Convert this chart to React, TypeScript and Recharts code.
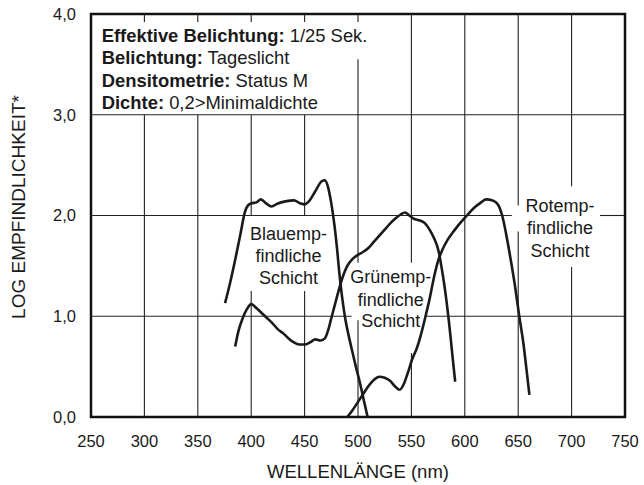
import React from 'react';
import { LineChart, Line, XAxis, YAxis, ReferenceLine, ReferenceArea } from 'recharts';

// Spectral sensitivity curves, one array per emulsion layer
const BLAU_NM = [375.5, 380, 385, 390, 394, 397, 400, 405, 409, 414, 419, 425, 432, 440, 446, 450, 454, 460, 466, 469, 472, 475, 478, 480.5, 482.5, 485, 488, 491, 494, 498, 502, 506, 509];
const BLAU_LOG = [1.13, 1.32, 1.56, 1.82, 2.03, 2.1, 2.12, 2.13, 2.16, 2.12, 2.09, 2.12, 2.14, 2.15, 2.12, 2.11, 2.14, 2.24, 2.34, 2.35, 2.28, 2.12, 1.9, 1.66, 1.43, 1.2, 0.98, 0.82, 0.68, 0.5, 0.33, 0.14, 0.0];

const GRUEN_NM = [385, 388, 392, 396, 400, 405, 410, 415, 420, 425, 430, 435, 440, 445, 450, 455, 460, 465, 469, 472, 475, 478, 482, 486, 490, 495, 500, 505, 510, 515, 520, 525, 530, 535, 540, 544, 548, 552, 558, 563, 567, 571, 574, 576, 578, 580, 583, 585, 587, 589, 591];
const GRUEN_LOG = [0.7, 0.85, 0.98, 1.07, 1.12, 1.08, 1.03, 0.98, 0.93, 0.87, 0.83, 0.78, 0.74, 0.72, 0.72, 0.74, 0.77, 0.76, 0.78, 0.86, 0.98, 1.1, 1.26, 1.4, 1.5, 1.57, 1.61, 1.64, 1.68, 1.74, 1.8, 1.86, 1.92, 1.97, 2.01, 2.03, 2.0, 1.97, 1.95, 1.92, 1.86, 1.78, 1.7, 1.62, 1.5, 1.37, 1.14, 0.96, 0.76, 0.55, 0.35];

const ROT_NM = [490, 495, 500, 505, 510, 515, 520, 525, 530, 535, 539, 543, 547, 551, 555, 559, 563, 567, 571, 575, 579, 584, 590, 596, 602, 608, 614, 620, 626, 631, 635, 639, 643, 647, 651, 655, 658, 660.5];
const ROT_LOG = [0.0, 0.07, 0.15, 0.23, 0.31, 0.37, 0.4, 0.39, 0.36, 0.3, 0.27, 0.33, 0.45, 0.58, 0.68, 0.82, 0.99, 1.17, 1.38, 1.55, 1.66, 1.76, 1.85, 1.93, 2.0, 2.07, 2.12, 2.16, 2.15, 2.11, 2.0, 1.8, 1.56, 1.3, 1.0, 0.72, 0.45, 0.22];

const X_TICKS = [250, 300, 350, 400, 450, 500, 550, 600, 650, 700, 750];
const Y_TICKS = [0, 1, 2, 3, 4];

const toSeries = (nm: number[], log: number[]) => nm.map((x, i) => ({ nm: x, log: log[i] }));
const blau = toSeries(BLAU_NM, BLAU_LOG);
const gruen = toSeries(GRUEN_NM, GRUEN_LOG);
const rot = toSeries(ROT_NM, ROT_LOG);

// grid pieces, broken where the text blocks sit
const V_GRID: [number, [number, number][]][] = [
  [300, [[0, 3], [3.92, 4]]],
  [350, [[0, 3], [3.92, 4]]],
  [400, [[0, 1.25], [2, 3], [3.92, 4]]],
  [450, [[0, 1.25], [2, 3], [3.92, 4]]],
  [500, [[0, 0.96], [1.53, 3.55], [3.92, 4]]],
  [550, [[0, 0.635], [1.53, 4]]],
  [600, [[0, 4]]],
  [650, [[0, 1.84], [2.1, 4]]],
  [700, [[0, 1.49], [2.29, 4]]],
];
const H_GRID: [number, [number, number][]][] = [
  [1, [[250, 494], [564.3, 750]]],
  [2, [[250, 644], [726.6, 750]]],
  [3, [[250, 750]]],
];

const FONT = '"Liberation Sans", Arial, sans-serif';
const INK = '#1a1a1a';

const Annotations = () => (
  <g fontFamily={FONT} fill={INK}>
    <text x={18.5} y={207} fontSize={19} textAnchor="middle" dominantBaseline="central" transform="rotate(-90 18.5 207)">
      LOG EMPFINDLICHKEIT*
    </text>
    <g fontSize={18.4}>
      <text x={101.7} y={42}><tspan fontWeight="bold">Effektive Belichtung:</tspan> 1/25 Sek.</text>
      <text x={101.7} y={64.4}><tspan fontWeight="bold">Belichtung:</tspan> Tageslicht</text>
      <text x={101.7} y={86.8}><tspan fontWeight="bold">Densitometrie:</tspan> Status M</text>
      <text x={101.7} y={109.2}><tspan fontWeight="bold">Dichte:</tspan> 0,2&gt;Minimaldichte</text>
    </g>
    <g fontSize={18} textAnchor="middle">
      <text x={288.5} y={239.5}>Blauemp-</text>
      <text x={288.5} y={262}>findliche</text>
      <text x={288.5} y={283.5}>Schicht</text>
      <text x={390.7} y={283.2}>Grünemp-</text>
      <text x={390.7} y={305.5}>findliche</text>
      <text x={390.7} y={327.2}>Schicht</text>
      <text x={560} y={211.5}>Rotemp-</text>
      <text x={560} y={234.2}>findliche</text>
      <text x={560} y={256.5}>Schicht</text>
    </g>
  </g>
);

const App: React.FC = () => {
  return (
    <div style={{ position: 'absolute', left: 0, top: 0 }}>
      <LineChart width={644} height={485} margin={{ top: 14, right: 19, left: 31, bottom: 0 }}>
        <XAxis
          type="number"
          dataKey="nm"
          domain={[250, 750]}
          ticks={X_TICKS}
          allowDataOverflow
          axisLine={false}
          tickLine={false}
          tickSize={0}
          tickMargin={18}
          height={68}
          tick={{ fontSize: 16.5, fill: INK, fontFamily: FONT }}
          label={{ value: 'WELLENLÄNGE (nm)', position: 'insideBottom', offset: 7, fontSize: 18.5, fill: INK, fontFamily: FONT }}
        />
        <YAxis
          type="number"
          domain={[0, 4]}
          ticks={Y_TICKS}
          allowDataOverflow
          axisLine={false}
          tickLine={false}
          tickSize={0}
          tickMargin={15}
          width={60}
          tickFormatter={(v: number) => v.toFixed(1).replace('.', ',')}
          tick={{ fontSize: 16.5, fill: INK, fontFamily: FONT }}
        />
        {V_GRID.flatMap(([x, parts]) =>
          parts.map(([a, b], i) => (
            <ReferenceLine key={`v-${x}-${i}`} segment={[{ x, y: a }, { x, y: b }]} stroke="#222" strokeWidth={1.1} />
          ))
        )}
        {H_GRID.flatMap(([y, parts]) =>
          parts.map(([a, b], i) => (
            <ReferenceLine key={`h-${y}-${i}`} segment={[{ x: a, y }, { x: b, y }]} stroke="#222" strokeWidth={1.1} />
          ))
        )}
        <ReferenceArea x1={250} x2={750} y1={0} y2={4} fill="none" stroke="#111" strokeWidth={2.5} />
        <Line data={blau} dataKey="log" type="monotone" stroke={INK} strokeWidth={2.6} dot={false} isAnimationActive={false} />
        <Line data={gruen} dataKey="log" type="monotone" stroke={INK} strokeWidth={2.6} dot={false} isAnimationActive={false} />
        <Line data={rot} dataKey="log" type="monotone" stroke={INK} strokeWidth={2.6} dot={false} isAnimationActive={false} />
        <Annotations />
      </LineChart>
    </div>
  );
};

export default App;
